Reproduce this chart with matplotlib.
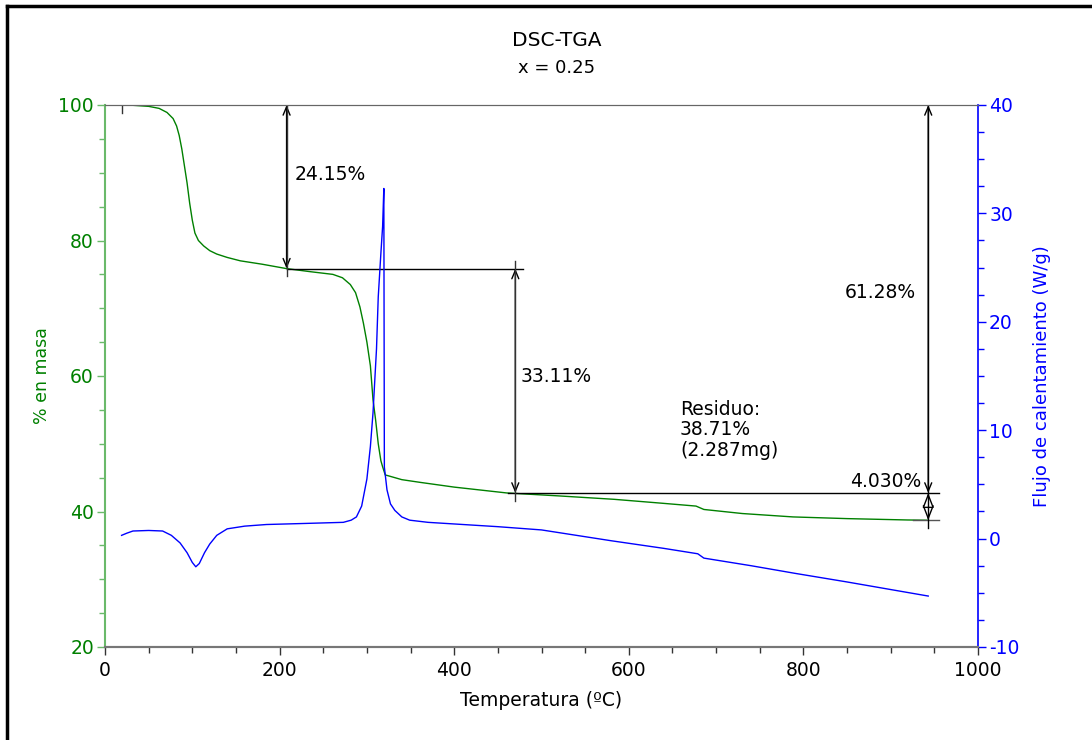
import matplotlib
matplotlib.use("Agg")
import matplotlib.pyplot as plt
from matplotlib.ticker import MultipleLocator
from matplotlib.lines import Line2D

plt.rcParams['font.family'] = ['DejaVu Sans']
plt.rcParams['axes.unicode_minus'] = False

# TGA curve: temperature (C) vs mass (%)
tga_temp = [20, 27, 50, 62, 71, 78, 82, 85, 88, 91, 94, 97, 100, 103, 107, 113, 120, 128,
            140, 155, 180, 208, 235, 261, 272, 281, 287, 292, 296, 300, 304, 307, 310, 313,
            316, 318, 321, 340, 361, 400, 460, 520, 583, 640, 677, 686, 730, 788, 850, 919, 943]
tga_mass = [100.0, 100.0, 99.8, 99.5, 98.9, 98.0, 96.9, 95.5, 93.5, 91.0, 88.5, 85.5, 83.0,
            81.1, 80.0, 79.2, 78.5, 78.0, 77.5, 77.0, 76.5, 75.85, 75.4, 75.0, 74.5, 73.5,
            72.3, 70.2, 67.8, 65.0, 61.5, 56.5, 53.5, 50.0, 47.5, 46.6, 45.4, 44.7, 44.3,
            43.6, 42.74, 42.3, 41.8, 41.2, 40.8, 40.3, 39.7, 39.2, 38.95, 38.75, 38.71]

# DSC curve: temperature (C) vs heat flow (W/g)
dsc_temp = [19, 25, 32, 50, 66, 76, 86, 94, 100, 104, 108, 114, 120, 128, 140, 160, 185, 230,
            273, 282, 288, 294, 300, 304, 307, 311, 313, 316, 318, 319.4, 320.0, 323, 327,
            332, 340, 349, 370, 450, 500, 580, 640, 679, 686, 740, 790, 850, 900, 943]
dsc_flow = [0.3, 0.5, 0.7, 0.75, 0.7, 0.3, -0.4, -1.3, -2.2, -2.6, -2.3, -1.3, -0.5, 0.3, 0.9,
            1.15, 1.3, 1.4, 1.5, 1.7, 2.0, 3.0, 5.5, 8.5, 11.6, 17.5, 22.3, 26.3, 28.8, 32.3,
            6.6, 4.5, 3.2, 2.6, 2.0, 1.7, 1.5, 1.1, 0.8, -0.2, -0.9, -1.4, -1.8, -2.5, -3.2,
            -4.0, -4.7, -5.3]

# mass-loss step levels and labels
step_levels = [100.0, 75.85, 42.74, 38.71]
step_labels = ['24.15%', '33.11%', '61.28%', '4.030%']
residue_text = 'Residuo:\n38.71%\n(2.287mg)'

green = '#008000'
green_light = '#6ab96a'
blue = '#0000ff'

fig = plt.figure(figsize=(10.92, 7.4), dpi=100)
ax = fig.add_axes([105 / 1092, 1 - 647 / 740, 873 / 1092, 542 / 740])
ax2 = ax.twinx()

ax.plot(tga_temp, tga_mass, color=green, lw=1.0, zorder=3)
ax2.plot(dsc_temp, dsc_flow, color=blue, lw=1.0, zorder=3)

ax.set_xlim(0, 1000)
ax.set_ylim(20, 100)
ax2.set_ylim(-10, 40)

ax.xaxis.set_major_locator(MultipleLocator(200))
ax.xaxis.set_minor_locator(MultipleLocator(50))
ax.yaxis.set_major_locator(MultipleLocator(20))
ax.yaxis.set_minor_locator(MultipleLocator(5))
ax2.yaxis.set_major_locator(MultipleLocator(10))
ax2.yaxis.set_minor_locator(MultipleLocator(2.5))

ax.tick_params(axis='x', which='major', length=6, width=1, color='#333333', labelsize=13.5, pad=4)
ax.tick_params(axis='x', which='minor', length=4, width=1, color='#333333')
ax.tick_params(axis='y', which='major', length=6, width=1, color=green_light,
               labelcolor=green, labelsize=13.5, pad=2)
ax.tick_params(axis='y', which='minor', length=4, width=1, color=green_light)
ax2.tick_params(axis='y', which='major', length=6, width=1, color=blue,
                labelcolor=blue, labelsize=13.5, pad=2)
ax2.tick_params(axis='y', which='minor', length=4, width=1, color=blue)

for a in (ax, ax2):
    a.spines['top'].set_color('#666666')
    a.spines['bottom'].set_color('#777777')
    a.spines['bottom'].set_linewidth(1.5)
ax.spines['left'].set_color(green_light)
ax.spines['left'].set_linewidth(1.5)
ax.spines['right'].set_visible(False)
ax2.spines['left'].set_visible(False)
ax2.spines['right'].set_color(blue)
ax2.spines['right'].set_linewidth(1.2)

ax.set_xlabel('Temperatura (ºC)', fontsize=13.5, labelpad=8)
ax.set_ylabel('% en masa', fontsize=12.5, color=green, labelpad=5)
ax2.set_ylabel('Flujo de calentamiento (W/g)', fontsize=13, color=blue, labelpad=10)

fig.text(0.51, 1 - 40 / 740, 'DSC-TGA', ha='center', va='center', fontsize=14.5)
fig.text(0.51, 1 - 68 / 740, 'x = 0.25', ha='center', va='center', fontsize=13)

# annotation lines
line_kw = dict(color='black', lw=1.0, zorder=4)
ax.plot([208, 479], [step_levels[1]] * 2, **line_kw)
ax.plot([462, 955], [step_levels[2]] * 2, **line_kw)
ax.plot([925, 955], [step_levels[3]] * 2, color='#555555', lw=1.0, zorder=4)
ax.plot([20, 20], [98.8, 101.2], color='#333333', lw=1.0, zorder=4)
ax.plot([208, 208], [74.8, 101.2], color='#333333', lw=1.0, zorder=4)
ax.plot([470, 470], [41.6, 77.0], color='#333333', lw=1.0, zorder=4)
ax.plot([943, 943], [37.6, 101.2], color='black', lw=1.0, zorder=4)

arrow_kw = dict(arrowstyle='<->,head_length=0.6,head_width=0.25', color='black', lw=1.0,
                shrinkA=0, shrinkB=0)
ax.annotate('', xy=(208, step_levels[0]), xytext=(208, step_levels[1]), arrowprops=arrow_kw)
ax.annotate('', xy=(470, step_levels[1]), xytext=(470, step_levels[2]), arrowprops=arrow_kw)
ax.annotate('', xy=(943, step_levels[0]), xytext=(943, step_levels[2]), arrowprops=arrow_kw)
ax.annotate('', xy=(943, step_levels[2]), xytext=(943, step_levels[3]),
            arrowprops=dict(arrowstyle='<|-|>,head_length=0.9,head_width=0.35', fc='white',
                            ec='black', lw=1.0, shrinkA=0, shrinkB=0))

text_kw = dict(fontsize=13.5, va='center', zorder=5)
ax.text(217.6, 89.7, step_labels[0], ha='left', **text_kw)
ax.text(476.5, 59.9, step_labels[1], ha='left', **text_kw)
ax.text(847.6, 72.3, step_labels[2], ha='left', **text_kw)
ax.text(934.7, 44.5, step_labels[3], ha='right', **text_kw)
ax.text(658.6, 56.5, residue_text, ha='left', va='top', fontsize=13.5, linespacing=1.1, zorder=5)

# figure frame (left and top edges)
fig.add_artist(Line2D([7 / 1092, 7 / 1092], [0, 1 - 6 / 740], color='black', lw=2.5,
                      transform=fig.transFigure))
fig.add_artist(Line2D([7 / 1092, 1], [1 - 6 / 740, 1 - 6 / 740], color='black', lw=2.5,
                      transform=fig.transFigure))

fig.savefig('out.png', dpi=100)
